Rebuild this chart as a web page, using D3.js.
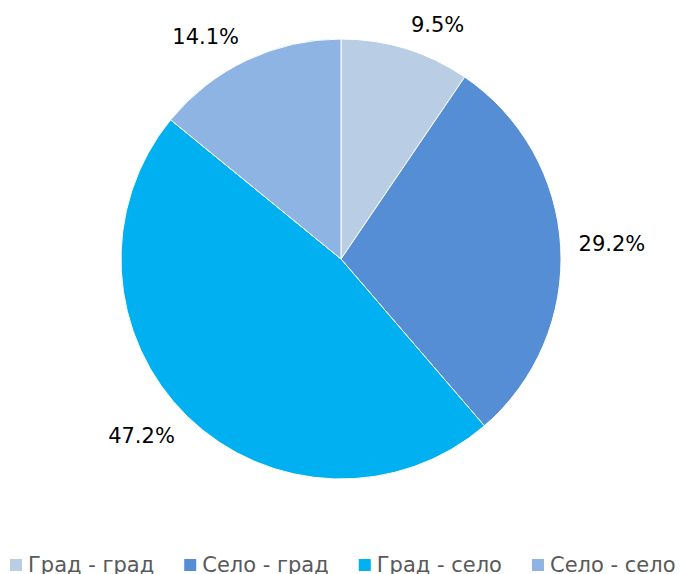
<!DOCTYPE html>
<html>
<head>
<meta charset="utf-8">
<script src="https://d3js.org/d3.v7.min.js"></script>
<style>
  body { margin: 0; background: #fff; overflow: hidden; }
  text { font-family: "DejaVu Sans", Verdana, sans-serif; }
</style>
</head>
<body>
<div id="chart"></div>
<script>
// categories and shares (%)
var categories = ["Град - град", "Село - град", "Град - село", "Село - село"];
var shares = [9.5, 29.2, 47.2, 14.1];
var colors = ["#B9CDE5", "#558ED5", "#00B0F0", "#8EB4E3"];

var width = 680, height = 574;
var cx = 341, cy = 259, radius = 220;

var svg = d3.select("#chart").append("svg")
  .attr("width", width)
  .attr("height", height)
  .style("display", "block");

var pie = d3.pie().sort(null).value(function(d) { return d; });
var arcs = pie(shares);

var arc = d3.arc().innerRadius(0).outerRadius(radius);

var g = svg.append("g").attr("transform", "translate(" + cx + "," + cy + ")");

g.selectAll("path")
  .data(arcs)
  .enter().append("path")
  .attr("d", arc)
  .attr("fill", function(d, i) { return colors[i]; })
  .attr("stroke", "#fff")
  .attr("stroke-width", 1);

function clamp(v) { return Math.max(-1, Math.min(1, v)); }

// labels: outside end, nearest corner of the text box on the mid-angle ray
g.selectAll(".lbl")
  .data(arcs)
  .enter().append("text")
  .attr("class", "lbl")
  .attr("font-size", 21)
  .attr("fill", "#000")
  .attr("text-anchor", "middle")
  .attr("dominant-baseline", "central")
  .text(function(d) { return d.data.toFixed(1) + "%"; })
  .each(function(d) {
    var a = (d.startAngle + d.endAngle) / 2;
    var bb = this.getBBox();
    var r = radius + 18;
    var px = Math.sin(a) * r, py = -Math.cos(a) * r;
    var x = px + clamp(Math.sin(a) * 4) * bb.width / 2;
    var y = py + clamp(-Math.cos(a) * 4) * bb.height / 2 * 0.55;
    d3.select(this).attr("x", x).attr("y", y);
  });

// legend
var legend = svg.append("g").attr("transform", "translate(0,565)");
var xPos = 10;
categories.forEach(function(c, i) {
  var item = legend.append("g").attr("transform", "translate(" + xPos + ",0)");
  item.append("rect")
    .attr("x", 0).attr("y", -6)
    .attr("width", 12).attr("height", 12)
    .attr("fill", colors[i]);
  var t = item.append("text")
    .attr("x", 18).attr("y", 0)
    .attr("dominant-baseline", "central")
    .attr("font-size", 21)
    .attr("fill", "#595959")
    .text(c);
  xPos += 18 + t.node().getBBox().width + 30;
});
</script>
</body>
</html>
